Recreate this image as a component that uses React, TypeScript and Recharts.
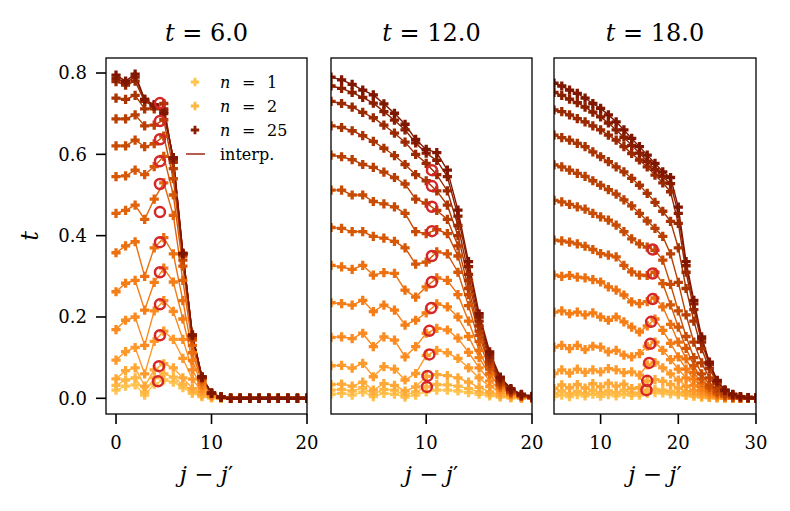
import React from "react";
import { ComposedChart, Line, XAxis, YAxis } from "recharts";

const FONT = "'DejaVu Serif', serif";
const Y_DOMAIN: [number, number] = [-0.0386, 0.8369];
const Y_TICKS = [0, 0.2, 0.4, 0.6, 0.8];

// ---------- panel 1 : t = 6.0 ----------
const p1Title = "6.0";
const p1J = [0, 1, 2, 3, 4, 5, 6, 7, 8, 9, 10, 11, 12, 13, 14, 15, 16, 17, 18, 19, 20];
const p1XTicks = [0, 10, 20];
const p1Series: number[][] = [
  [0.02, 0.03, 0.033, 0.008, 0.035, 0.045, 0.04, 0.026, 0.012, 0.004, 0.001, 0, 0, 0, 0, 0, 0, 0, 0, 0, 0],
  [0.032, 0.045, 0.05, 0.015, 0.05, 0.06, 0.052, 0.034, 0.016, 0.006, 0.002, 0, 0, 0, 0, 0, 0, 0, 0, 0, 0],
  [0.048, 0.068, 0.075, 0.03, 0.07, 0.085, 0.075, 0.05, 0.024, 0.009, 0.003, 0.001, 0, 0, 0, 0, 0, 0, 0, 0, 0],
  [0.094, 0.115, 0.125, 0.06, 0.14, 0.165, 0.145, 0.098, 0.047, 0.017, 0.005, 0.001, 0, 0, 0, 0, 0, 0, 0, 0, 0],
  [0.169, 0.192, 0.2, 0.13, 0.215, 0.24, 0.214, 0.145, 0.07, 0.025, 0.007, 0.002, 0, 0, 0, 0, 0, 0, 0, 0, 0],
  [0.262, 0.283, 0.29, 0.217, 0.285, 0.32, 0.286, 0.195, 0.093, 0.033, 0.009, 0.002, 0, 0, 0, 0, 0, 0, 0, 0, 0],
  [0.358, 0.375, 0.385, 0.3, 0.37, 0.395, 0.355, 0.24, 0.112, 0.039, 0.011, 0.002, 0, 0, 0, 0, 0, 0, 0, 0, 0],
  [0.455, 0.462, 0.475, 0.44, 0.49, 0.53, 0.45, 0.29, 0.13, 0.044, 0.012, 0.003, 0, 0, 0, 0, 0, 0, 0, 0, 0],
  [0.545, 0.547, 0.561, 0.55, 0.57, 0.595, 0.5, 0.325, 0.143, 0.048, 0.012, 0.003, 0, 0, 0, 0, 0, 0, 0, 0, 0],
  [0.621, 0.621, 0.635, 0.619, 0.626, 0.645, 0.54, 0.34, 0.148, 0.05, 0.012, 0.003, 0, 0, 0, 0, 0, 0, 0, 0, 0],
  [0.687, 0.687, 0.697, 0.67, 0.672, 0.685, 0.565, 0.35, 0.152, 0.05, 0.012, 0.003, 0, 0, 0, 0, 0, 0, 0, 0, 0],
  [0.738, 0.735, 0.745, 0.712, 0.712, 0.725, 0.58, 0.354, 0.154, 0.051, 0.012, 0.003, 0, 0, 0, 0, 0, 0, 0, 0, 0],
  [0.779, 0.77, 0.78, 0.73, 0.718, 0.712, 0.587, 0.356, 0.155, 0.052, 0.012, 0.003, 0, 0, 0, 0, 0, 0, 0, 0, 0],
  [0.787, 0.776, 0.79, 0.735, 0.72, 0.706, 0.59, 0.356, 0.155, 0.052, 0.012, 0.003, 0, 0, 0, 0, 0, 0, 0, 0, 0],
  [0.795, 0.78, 0.797, 0.735, 0.722, 0.7, 0.592, 0.357, 0.156, 0.053, 0.013, 0.003, 0, 0, 0, 0, 0, 0, 0, 0, 0],
];
const p1CircleX = [4.4, 4.5, 4.6, 4.6, 4.6, 4.6, 4.6, 4.6, 4.6, 4.6, 4.6, 4.6];
const p1CircleY = [0.042, 0.079, 0.155, 0.231, 0.31, 0.384, 0.458, 0.527, 0.583, 0.637, 0.682, 0.726];

// ---------- panel 2 : t = 12.0 ----------
const p2Title = "12.0";
const p2J = [1, 2, 3, 4, 5, 6, 7, 8, 9, 10, 11, 12, 13, 14, 15, 16, 17, 18, 19, 20];
const p2XTicks = [10, 20];
const p2Series: number[][] = [
  [0.01, 0.012, 0.008, 0.015, 0.004, 0.012, 0.01, 0.003, 0.008, 0.016, 0.02, 0.02, 0.018, 0.014, 0.01, 0.006, 0.003, 0.001, 0, 0],
  [0.02, 0.022, 0.018, 0.026, 0.01, 0.022, 0.02, 0.008, 0.016, 0.028, 0.034, 0.033, 0.03, 0.024, 0.016, 0.01, 0.005, 0.002, 0.001, 0],
  [0.034, 0.035, 0.03, 0.04, 0.02, 0.036, 0.032, 0.018, 0.028, 0.054, 0.058, 0.056, 0.05, 0.04, 0.027, 0.016, 0.008, 0.004, 0.001, 0],
  [0.08, 0.081, 0.074, 0.086, 0.053, 0.078, 0.072, 0.045, 0.061, 0.105, 0.118, 0.112, 0.098, 0.075, 0.05, 0.029, 0.015, 0.007, 0.003, 0.001],
  [0.15, 0.151, 0.147, 0.16, 0.127, 0.151, 0.143, 0.102, 0.127, 0.16, 0.172, 0.168, 0.148, 0.113, 0.075, 0.043, 0.022, 0.01, 0.004, 0.001],
  [0.235, 0.233, 0.229, 0.241, 0.213, 0.229, 0.217, 0.18, 0.192, 0.21, 0.232, 0.225, 0.2, 0.152, 0.1, 0.058, 0.029, 0.013, 0.005, 0.002],
  [0.327, 0.323, 0.317, 0.327, 0.303, 0.309, 0.307, 0.266, 0.249, 0.274, 0.296, 0.29, 0.255, 0.19, 0.118, 0.061, 0.027, 0.011, 0.004, 0.001],
  [0.42, 0.418, 0.41, 0.41, 0.398, 0.394, 0.386, 0.37, 0.33, 0.335, 0.36, 0.355, 0.31, 0.228, 0.14, 0.072, 0.032, 0.013, 0.005, 0.002],
  [0.512, 0.512, 0.5, 0.5, 0.484, 0.478, 0.471, 0.455, 0.41, 0.405, 0.415, 0.405, 0.35, 0.255, 0.155, 0.08, 0.035, 0.015, 0.005, 0.002],
  [0.598, 0.594, 0.587, 0.575, 0.568, 0.556, 0.543, 0.527, 0.49, 0.48, 0.462, 0.44, 0.375, 0.27, 0.165, 0.086, 0.038, 0.016, 0.006, 0.002],
  [0.67, 0.666, 0.658, 0.646, 0.632, 0.615, 0.597, 0.575, 0.55, 0.535, 0.51, 0.475, 0.4, 0.29, 0.178, 0.093, 0.042, 0.018, 0.007, 0.003],
  [0.73, 0.725, 0.716, 0.703, 0.69, 0.672, 0.652, 0.63, 0.6, 0.578, 0.55, 0.51, 0.425, 0.305, 0.19, 0.1, 0.046, 0.02, 0.008, 0.003],
  [0.768, 0.762, 0.752, 0.74, 0.726, 0.705, 0.684, 0.66, 0.628, 0.603, 0.585, 0.545, 0.448, 0.324, 0.2, 0.108, 0.05, 0.022, 0.009, 0.004],
  [0.79, 0.783, 0.772, 0.758, 0.746, 0.724, 0.701, 0.674, 0.637, 0.612, 0.604, 0.561, 0.463, 0.336, 0.208, 0.114, 0.052, 0.024, 0.01, 0.005],
];
const p2CircleX = [10.06, 10.12, 10.3, 10.3, 10.48, 10.54, 10.54, 10.54, 10.54, 10.54, 10.54];
const p2CircleY = [0.028, 0.055, 0.108, 0.166, 0.222, 0.286, 0.35, 0.411, 0.471, 0.522, 0.561];

// ---------- panel 3 : t = 18.0 ----------
const p3Title = "18.0";
const p3J = [4, 5, 6, 7, 8, 9, 10, 11, 12, 13, 14, 15, 16, 17, 18, 19, 20, 21, 22, 23, 24, 25, 26, 27, 28, 29, 30];
const p3XTicks = [10, 20, 30];
const p3Series: number[][] = [
  [0.005, 0.008, 0.004, 0.009, 0.006, 0.01, 0.005, 0.009, 0.006, 0.01, 0.007, 0.008, 0.012, 0.014, 0.013, 0.011, 0.009, 0.007, 0.005, 0.003, 0.002, 0.001, 0.001, 0, 0, 0, 0],
  [0.012, 0.018, 0.011, 0.017, 0.012, 0.02, 0.013, 0.018, 0.014, 0.02, 0.013, 0.012, 0.02, 0.022, 0.02, 0.017, 0.013, 0.009, 0.006, 0.004, 0.002, 0.001, 0.001, 0, 0, 0, 0],
  [0.024, 0.033, 0.026, 0.034, 0.025, 0.036, 0.028, 0.037, 0.03, 0.035, 0.024, 0.026, 0.043, 0.046, 0.042, 0.034, 0.025, 0.017, 0.01, 0.006, 0.003, 0.002, 0.001, 0, 0, 0, 0],
  [0.061, 0.07, 0.062, 0.072, 0.064, 0.07, 0.065, 0.073, 0.07, 0.063, 0.065, 0.057, 0.082, 0.088, 0.075, 0.06, 0.045, 0.03, 0.019, 0.011, 0.006, 0.003, 0.001, 0, 0, 0, 0],
  [0.126, 0.13, 0.122, 0.13, 0.12, 0.128, 0.126, 0.114, 0.118, 0.106, 0.102, 0.11, 0.128, 0.138, 0.118, 0.095, 0.072, 0.05, 0.032, 0.019, 0.01, 0.005, 0.002, 0.001, 0, 0, 0],
  [0.212, 0.215, 0.208, 0.212, 0.205, 0.21, 0.2, 0.192, 0.2, 0.188, 0.175, 0.163, 0.178, 0.195, 0.167, 0.135, 0.102, 0.072, 0.047, 0.028, 0.015, 0.007, 0.003, 0.001, 0, 0, 0],
  [0.303, 0.3, 0.302, 0.298, 0.296, 0.292, 0.286, 0.274, 0.266, 0.254, 0.237, 0.233, 0.238, 0.247, 0.225, 0.182, 0.138, 0.097, 0.063, 0.038, 0.02, 0.01, 0.004, 0.002, 0.001, 0, 0],
  [0.389, 0.387, 0.384, 0.38, 0.374, 0.366, 0.356, 0.352, 0.348, 0.327, 0.311, 0.303, 0.302, 0.31, 0.282, 0.23, 0.175, 0.123, 0.08, 0.048, 0.026, 0.013, 0.006, 0.002, 0.001, 0, 0],
  [0.487, 0.483, 0.477, 0.471, 0.465, 0.455, 0.446, 0.438, 0.426, 0.41, 0.392, 0.38, 0.372, 0.364, 0.34, 0.28, 0.215, 0.152, 0.1, 0.06, 0.033, 0.017, 0.008, 0.003, 0.001, 0, 0],
  [0.574, 0.569, 0.561, 0.553, 0.546, 0.535, 0.524, 0.513, 0.502, 0.488, 0.473, 0.455, 0.436, 0.418, 0.398, 0.355, 0.285, 0.205, 0.138, 0.087, 0.05, 0.026, 0.012, 0.005, 0.002, 0.001, 0],
  [0.647, 0.641, 0.635, 0.627, 0.619, 0.606, 0.594, 0.582, 0.569, 0.557, 0.541, 0.524, 0.504, 0.482, 0.46, 0.435, 0.37, 0.27, 0.19, 0.122, 0.073, 0.038, 0.018, 0.008, 0.003, 0.001, 0],
  [0.709, 0.705, 0.697, 0.688, 0.68, 0.67, 0.66, 0.647, 0.635, 0.619, 0.602, 0.586, 0.569, 0.549, 0.53, 0.508, 0.43, 0.31, 0.218, 0.138, 0.082, 0.041, 0.019, 0.009, 0.004, 0.002, 0.001],
  [0.752, 0.745, 0.736, 0.727, 0.716, 0.704, 0.692, 0.677, 0.66, 0.642, 0.622, 0.603, 0.583, 0.563, 0.545, 0.528, 0.455, 0.326, 0.232, 0.146, 0.086, 0.043, 0.02, 0.009, 0.004, 0.002, 0.001],
  [0.775, 0.768, 0.758, 0.75, 0.738, 0.725, 0.713, 0.697, 0.68, 0.66, 0.639, 0.619, 0.598, 0.578, 0.557, 0.543, 0.47, 0.336, 0.241, 0.151, 0.089, 0.044, 0.02, 0.01, 0.004, 0.002, 0.001],
];
const p3CircleX = [15.9, 16.0, 16.25, 16.4, 16.5, 16.7, 16.7, 16.7];
const p3CircleY = [0.02, 0.043, 0.087, 0.134, 0.188, 0.244, 0.307, 0.366];

// legend
const legendLabels = ["1", "2", "25"];
const legendInterp = "interp.";

// ---------- styles ----------
const PALETTE = [
  "#fec44f", "#feb743", "#fea937", "#fd9a2b", "#fb8b20", "#f57d16", "#ec700f", "#e2630a",
  "#d65706", "#c84b04", "#b93f02", "#a93301", "#9a2800", "#8c1e00", "#801600",
];
const LEGEND_COLORS = ["#fec44f", "#fdb843", "#8c1e00"];
const INTERP_COLOR = "#a93226";
const CIRCLE_COLOR = "#d62728";
const PLOT_TOP = 58;
const PLOT_BOTTOM = 414;
const Y_AXIS_W = 60;

const plusPath = (cx: number, cy: number, s = 4.6, t = 1.65) =>
  `M${cx - t},${cy - s}H${cx + t}V${cy - t}H${cx + s}V${cy + t}H${cx + t}V${cy + s}H${cx - t}V${cy + t}H${cx - s}V${cy - t}H${cx - t}Z`;

const colorFor = (i: number, n: number) => PALETTE[Math.round((i * (PALETTE.length - 1)) / (n - 1))];

type Spec = {
  js: number[];
  series: number[][];
  cx: number[];
  cy: number[];
  domain: [number, number];
  xticks: number[];
  left: number;
  right: number;
  showY: boolean;
};

const specs: Spec[] = [
  { js: p1J, series: p1Series, cx: p1CircleX, cy: p1CircleY, domain: [-1.05, 20], xticks: p1XTicks, left: 106, right: 307, showY: true },
  { js: p2J, series: p2Series, cx: p2CircleX, cy: p2CircleY, domain: [1, 20], xticks: p2XTicks, left: 331, right: 532, showY: false },
  { js: p3J, series: p3Series, cx: p3CircleX, cy: p3CircleY, domain: [4, 30], xticks: p3XTicks, left: 554, right: 756, showY: false },
];
const titles = [p1Title, p2Title, p3Title];

const tickStyle = { fill: "#000", fontSize: 18, fontFamily: FONT };
const tickLineStyle = { stroke: "#000", strokeWidth: 1.6 };

function Panel({ spec }: { spec: Spec }) {
  const n = spec.series.length;
  const circles = spec.cx.map((x, i) => ({ x, y: spec.cy[i] }));
  return (
    <div style={{ position: "absolute", left: 0, top: 0 }}>
      <ComposedChart
        width={790}
        height={511}
        margin={{ top: PLOT_TOP, right: 790 - spec.right, bottom: 0, left: spec.left - Y_AXIS_W }}
      >
        <XAxis
          dataKey="x"
          type="number"
          domain={spec.domain}
          allowDataOverflow
          ticks={spec.xticks}
          interval={0}
          height={511 - PLOT_BOTTOM}
          axisLine={false}
          tickSize={10}
          tickLine={tickLineStyle}
          tickMargin={12}
          tick={tickStyle}
        />
        <YAxis
          dataKey="y"
          type="number"
          domain={Y_DOMAIN}
          allowDataOverflow
          ticks={Y_TICKS}
          interval={0}
          width={Y_AXIS_W}
          axisLine={false}
          tickSize={10}
          tickLine={tickLineStyle}
          tickMargin={9}
          tick={spec.showY ? tickStyle : false}
          tickFormatter={(v: number) => v.toFixed(1)}
        />
        {spec.series.map((vals, i) => {
          const color = colorFor(i, n);
          const data = vals.map((v, k) => ({ x: spec.js[k], y: v }));
          return (
            <Line
              key={`s${i}`}
              data={data}
              dataKey="y"
              type="linear"
              stroke={color}
              strokeWidth={1.4}
              isAnimationActive={false}
              activeDot={false}
              dot={(p: any) => {
                if (p.cx == null || p.cy == null) return <g key={`d${i}-${p.index}`} />;
                return <path key={`d${i}-${p.index}`} d={plusPath(p.cx, p.cy)} fill={color} />;
              }}
            />
          );
        })}
        <Line
          data={circles}
          dataKey="y"
          stroke="none"
          isAnimationActive={false}
          activeDot={false}
          dot={(p: any) => {
            if (p.cx == null || p.cy == null) return <g key={`c${p.index}`} />;
            return (
              <circle key={`c${p.index}`} cx={p.cx} cy={p.cy} r={5} fill="none" stroke={CIRCLE_COLOR} strokeWidth={2.5} />
            );
          }}
        />
      </ComposedChart>
    </div>
  );
}

export default function App() {
  const legendRows = [82, 106, 130];
  return (
    <div style={{ position: "absolute", left: 0, top: 0, width: 790, height: 511, background: "#fff" }}>
      {specs.map((s, i) => (
        <Panel key={i} spec={s} />
      ))}
      <svg
        width={790}
        height={511}
        style={{ position: "absolute", left: 0, top: 0, pointerEvents: "none" }}
        fontFamily={FONT}
      >
        {specs.map((s, i) => (
          <g key={i}>
            <rect
              x={s.left}
              y={PLOT_TOP}
              width={s.right - s.left}
              height={PLOT_BOTTOM - PLOT_TOP}
              fill="none"
              stroke="#000"
              strokeWidth={1.3}
            />
            <text x={(s.left + s.right) / 2} y={41} fontSize={24} textAnchor="middle" fill="#000">
              <tspan fontStyle="italic">t</tspan>
              <tspan> = {titles[i]}</tspan>
            </text>
            <text x={(s.left + s.right) / 2} y={482} fontSize={23} textAnchor="middle" fill="#000">
              <tspan fontStyle="italic">j</tspan>
              <tspan> − </tspan>
              <tspan fontStyle="italic">j</tspan>
              <tspan>′</tspan>
            </text>
          </g>
        ))}
        <text x={38} y={236} fontSize={24} fontStyle="italic" textAnchor="middle" transform="rotate(-90 38 236)" fill="#000">
          t
        </text>
        {legendLabels.map((lab, i) => (
          <g key={lab}>
            <path d={plusPath(195, legendRows[i], 4.2, 1.4)} fill={LEGEND_COLORS[i]} />
            <text y={legendRows[i] + 6} fontSize={16} fill="#000">
              <tspan x={220} fontStyle="italic">n</tspan>
              <tspan x={242}>=</tspan>
              <tspan x={267}>{lab}</tspan>
            </text>
          </g>
        ))}
        <line x1={186} x2={205} y1={154} y2={154} stroke={INTERP_COLOR} strokeWidth={1.6} />
        <text x={220} y={160} fontSize={16} fill="#000">
          {legendInterp}
        </text>
      </svg>
    </div>
  );
}
